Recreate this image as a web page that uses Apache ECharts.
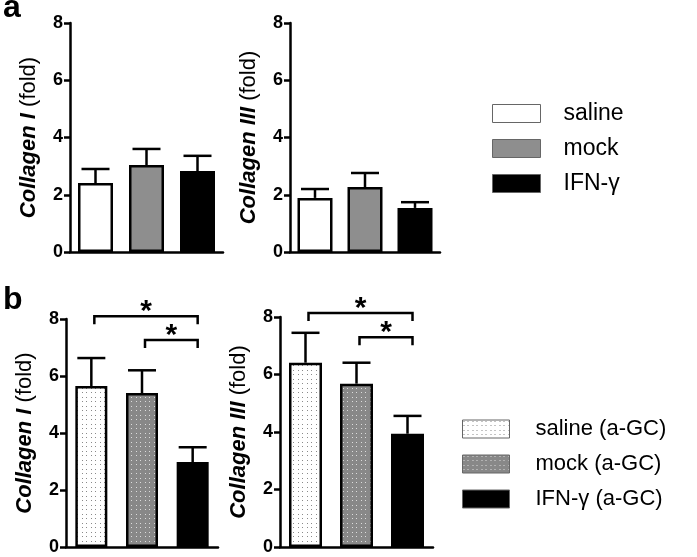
<!DOCTYPE html>
<html>
<head>
<meta charset="utf-8">
<script src="https://cdn.jsdelivr.net/npm/echarts@6/dist/echarts.min.js"></script>
<style>
  html, body { margin: 0; padding: 0; background: #fff; }
  #main { width: 697px; height: 557px; }
</style>
</head>
<body>
<div id="main"></div>
<script>
// groups
const groupsA = ['saline', 'mock', 'IFN-γ']
const groupsB = ['saline (a-GC)', 'mock (a-GC)', 'IFN-γ (a-GC)']

// panel a: mean and SEM
const colIa = [2.41, 3.04, 2.83]
const colIaSem = [0.49, 0.56, 0.53]
const colIIIa = [1.89, 2.27, 1.54]
const colIIIaSem = [0.31, 0.49, 0.20]

// panel b: mean and SEM
const colIb = [5.65, 5.40, 2.98]
const colIbSem = [0.98, 0.80, 0.52]
const colIIIb = [6.41, 5.68, 3.94]
const colIIIbSem = [1.04, 0.73, 0.62]

// significance brackets: [from, to, level]
const sigIb = [[0, 2, 8.1], [1, 2, 7.26]]
const sigIIIb = [[0, 2, 8.14], [1, 2, 7.3]]

const yTicks = [0, 2, 4, 6, 8]

const FONT = 'Liberation Sans, Arial, sans-serif'
const GREY = '#8e8e8e'

// dotted fill patterns for panel b
function dots(bg, dot) {
  const c = document.createElement('canvas')
  c.width = 9
  c.height = 9
  const ctx = c.getContext('2d')
  ctx.fillStyle = bg
  ctx.fillRect(0, 0, 9, 9)
  ctx.fillStyle = dot
  ;[1, 5].forEach(function (x) {
    ;[1, 5].forEach(function (y) { ctx.fillRect(x, y, 1, 1) })
  })
  return { image: c, repeat: 'repeat' }
}

const fillsA = ['#ffffff', GREY, '#000000']
const fillsB = [dots('#ffffff', '#8a8a8a'), dots('#888888', '#dcdcdc'), '#000000']

const grids = [
  { left: 70, top: 23, width: 153, height: 229 },
  { left: 290, top: 23, width: 150, height: 229 },
  { left: 66, top: 319, width: 152, height: 228 },
  { left: 280, top: 317, width: 153, height: 230 }
]

function yAxisFor(i, title) {
  return {
    gridIndex: i,
    type: 'value',
    min: yTicks[0],
    max: yTicks[yTicks.length - 1],
    interval: 2,
    splitLine: { show: false },
    axisLine: { show: true, lineStyle: { color: '#000', width: 2.5 } },
    axisTick: { show: true, length: 6, lineStyle: { color: '#000', width: 2.5 } },
    axisLabel: { color: '#000', fontSize: 18, fontWeight: 'bold', fontFamily: FONT, margin: 7 },
    name: '{i|' + title + '} (fold)',
    nameLocation: 'middle',
    nameGap: 30,
    nameTextStyle: {
      color: '#000', fontSize: 22, fontFamily: FONT,
      rich: { i: { fontSize: 22, fontStyle: 'italic', fontWeight: 'bold', fontFamily: FONT, color: '#000' } }
    }
  }
}

function xAxisFor(i, cats) {
  return {
    gridIndex: i,
    type: 'category',
    data: cats,
    axisLine: { lineStyle: { color: '#000', width: 2.5 } },
    axisTick: { show: false },
    axisLabel: { show: false }
  }
}

function barSeries(i, names, fills, means, width) {
  return names.map(function (n, k) {
    const d = means.map(function (v, j) { return j === k ? v : '-' })
    return {
      type: 'bar',
      name: n,
      xAxisIndex: i,
      yAxisIndex: i,
      data: d,
      barWidth: width,
      barGap: '-100%',
      itemStyle: { color: fills[k], borderColor: '#000', borderWidth: 2.5 },
      silent: true
    }
  })
}

function errRender(params, api) {
  const x = api.value(0)
  const m = api.value(1)
  const s = api.value(2)
  const p0 = api.coord([x, m])
  const p1 = api.coord([x, m + s])
  const half = 14
  const st = { stroke: '#000', lineWidth: 2.5 }
  return {
    type: 'group',
    children: [
      { type: 'line', shape: { x1: p0[0], y1: p0[1], x2: p1[0], y2: p1[1] }, style: st },
      { type: 'line', shape: { x1: p1[0] - half, y1: p1[1], x2: p1[0] + half, y2: p1[1] }, style: st }
    ]
  }
}

function errSeries(i, means, sems) {
  return {
    type: 'custom',
    xAxisIndex: i,
    yAxisIndex: i,
    z: 1,
    clip: false,
    silent: true,
    renderItem: errRender,
    encode: { x: 0, y: 1 },
    data: means.map(function (v, j) { return [j, v, sems[j]] })
  }
}

function sigRender(params, api) {
  const a = api.coord([api.value(0), api.value(2)])
  const b = api.coord([api.value(1), api.value(2)])
  const lx = a[0] + 3
  const rx = b[0] + 5
  const y = a[1]
  return {
    type: 'group',
    children: [
      {
        type: 'polyline',
        shape: { points: [[lx, y + 8], [lx, y], [rx, y], [rx, y + 8]] },
        style: { stroke: '#000', lineWidth: 2.5, fill: null }
      },
      {
        type: 'text',
        style: {
          text: '*', x: (lx + rx) / 2, y: y - 4,
          textAlign: 'center', textVerticalAlign: 'middle',
          font: 'bold 30px ' + FONT, fill: '#000'
        }
      }
    ]
  }
}

function sigSeries(i, sig) {
  return {
    type: 'custom',
    xAxisIndex: i,
    yAxisIndex: i,
    clip: false,
    silent: true,
    renderItem: sigRender,
    encode: { x: 0, y: 2 },
    data: sig
  }
}

const myChart = echarts.init(document.getElementById('main'))

const option = {
  backgroundColor: '#fff',
  animation: false,
  textStyle: { fontFamily: FONT },
  graphic: [
    { type: 'text', left: 3, top: -8, style: { text: 'a', font: 'bold 32px ' + FONT, fill: '#000' } },
    { type: 'text', left: 3, top: 284, style: { text: 'b', font: 'bold 32px ' + FONT, fill: '#000' } }
  ],
  legend: [
    {
      data: groupsA,
      orient: 'vertical',
      left: 492,
      top: 102,
      padding: 0,
      itemWidth: 48,
      itemHeight: 18,
      itemGap: 12,
      selectedMode: false,
      icon: 'rect',
      itemStyle: { borderColor: '#666', borderWidth: 1 },
      textStyle: { fontSize: 23, color: '#000', fontFamily: FONT, padding: [0, 0, 0, 18] }
    },
    {
      data: groupsB,
      orient: 'vertical',
      left: 462,
      top: 418,
      padding: 0,
      itemWidth: 47,
      itemHeight: 18,
      itemGap: 13,
      selectedMode: false,
      icon: 'rect',
      itemStyle: { borderColor: '#666', borderWidth: 1 },
      textStyle: { fontSize: 22, color: '#000', fontFamily: FONT, padding: [0, 0, 0, 21] }
    }
  ],
  grid: grids,
  xAxis: [
    xAxisFor(0, groupsA),
    xAxisFor(1, groupsA),
    xAxisFor(2, groupsB),
    xAxisFor(3, groupsB)
  ],
  yAxis: [
    yAxisFor(0, 'Collagen I'),
    yAxisFor(1, 'Collagen III'),
    yAxisFor(2, 'Collagen I'),
    yAxisFor(3, 'Collagen III')
  ],
  series: [].concat(
    barSeries(0, groupsA, fillsA, colIa, 35),
    [errSeries(0, colIa, colIaSem)],
    barSeries(1, groupsA, fillsA, colIIIa, 35),
    [errSeries(1, colIIIa, colIIIaSem)],
    barSeries(2, groupsB, fillsB, colIb, 32),
    [errSeries(2, colIb, colIbSem), sigSeries(2, sigIb)],
    barSeries(3, groupsB, fillsB, colIIIb, 33),
    [errSeries(3, colIIIb, colIIIbSem), sigSeries(3, sigIIIb)]
  )
}

myChart.setOption(option)
</script>
</body>
</html>
